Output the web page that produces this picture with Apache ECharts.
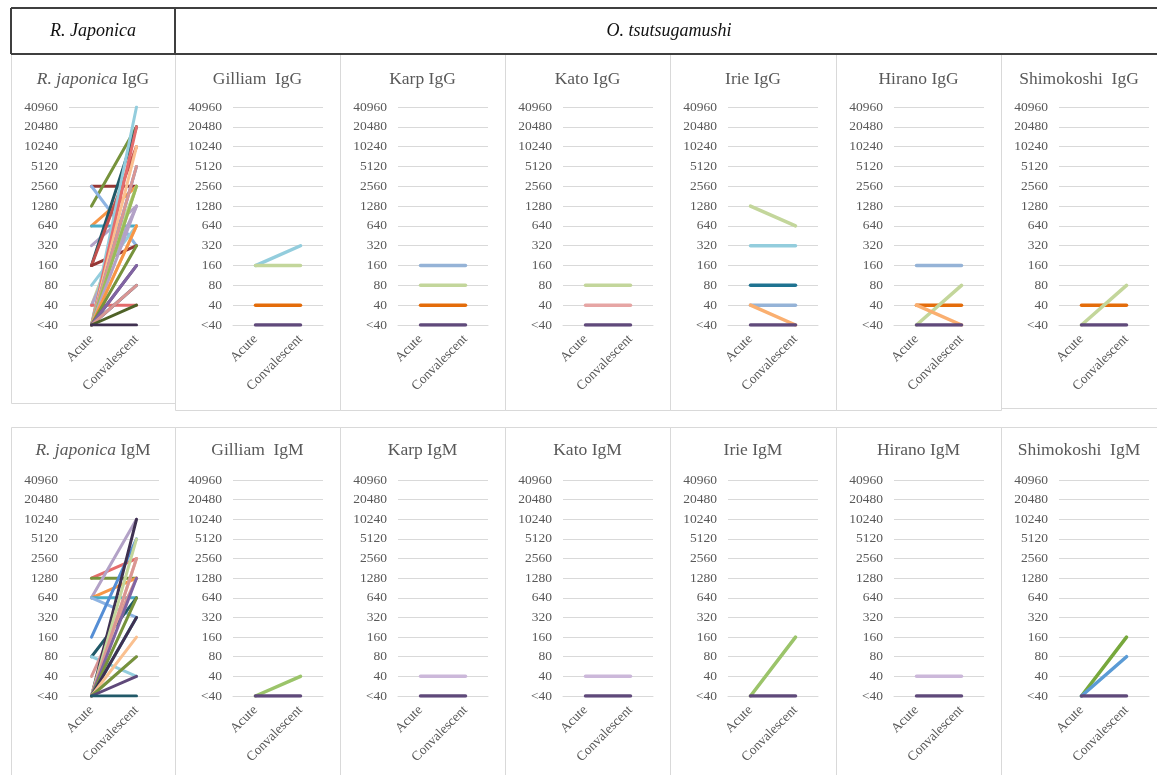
<!DOCTYPE html>
<html><head><meta charset="utf-8">
<script src="https://cdn.jsdelivr.net/npm/echarts@6/dist/echarts.min.js"></script>
<style>html,body{margin:0;padding:0;background:#fff}#c{width:1157px;height:775px}</style>
</head><body><div id="c"></div>
<script>
// ---------- data ----------
const titerLabels = ['<40','40','80','160','320','640','1280','2560','5120','10240','20480','40960'];
const phaseLabels = ['Acute','Convalescent'];
const headerLeft = 'R. Japonica';
const headerRight = 'O. tsutsugamushi';
const strainNames = ['Gilliam  ','Karp ','Kato ','Irie ','Hirano ','Shimokoshi  '];

// each pair: [acute, convalescent]
const rjIgG = [
  ['2560','2560'],['1280','20480'],['2560','320'],['640','2560'],['640','640'],['320','1280'],
  ['160','20480'],['160','10240'],['160','320'],['80','640'],['40','2560'],['40','1280'],['40','40'],
  ['<40','40960'],['<40','20480'],['<40','10240'],['<40','5120'],['<40','5120'],['<40','2560'],
  ['<40','2560'],['<40','1280'],['<40','640'],['<40','640'],['<40','320'],['<40','160'],
  ['<40','160'],['<40','80'],['<40','80'],['<40','40'],['<40','<40']
];
const rjIgGColors = [
  '#953735','#77933C','#8EB4E3','#F79646','#4BACC6','#B3A2C7',
  '#215968','#C0504D','#953735','#93CDDD','#C3D69B','#B3A2C7','#E46C6C',
  '#93CDDD','#E46C6C','#FAC090','#558ED5','#D99694','#C3D69B',
  '#9BBB59','#B3A2C7','#FAC090','#F79646','#77933C','#5F497A',
  '#8064A2','#1F5F7A','#D99694','#4F6228','#403151'
];
const rjIgM = [
  ['1280','2560'],['1280','1280'],['640','10240'],['640','1280'],['640','640'],['640','320'],
  ['160','5120'],['80','640'],['80','40'],['40','1280'],
  ['<40','10240'],['<40','5120'],['<40','2560'],['<40','2560'],['<40','1280'],['<40','640'],
  ['<40','320'],['<40','320'],['<40','160'],['<40','80'],['<40','80'],['<40','40'],['<40','<40']
];
const rjIgMColors = [
  '#E46C6C','#77933C','#B3A2C7','#F79646','#4BACC6','#8EB4E3',
  '#558ED5','#215968','#93CDDD','#D99694',
  '#3F3151','#C3D69B','#FAC090','#D99694','#8064A2','#77933C',
  '#4BACC6','#3F3151','#FAC090','#CCC1DA','#77933C','#5F497A','#215968'
];
const gilliamIgG = [['160','320'],['160','160'],['40','40'],['<40','<40']];
const gilliamIgGColors = ['#93CDDD','#C3D69B','#E46C0A','#604A7B'];
const karpIgG = [['160','160'],['80','80'],['40','40'],['<40','<40']];
const karpIgGColors = ['#95B3D7','#C3D69B','#E46C0A','#604A7B'];
const katoIgG = [['80','80'],['40','40'],['<40','<40']];
const katoIgGColors = ['#C3D69B','#E6A5A4','#604A7B'];
const irieIgG = [['1280','640'],['320','320'],['80','80'],['40','40'],['40','<40'],['<40','<40']];
const irieIgGColors = ['#C3D69B','#93CDDD','#1F7391','#95B3D7','#FAAF70','#604A7B'];
const hiranoIgG = [['160','160'],['40','40'],['<40','80'],['40','<40'],['<40','<40']];
const hiranoIgGColors = ['#95B3D7','#E46C0A','#C3D69B','#FAAF70','#604A7B'];
const shimoIgG = [['40','40'],['<40','80'],['<40','<40']];
const shimoIgGColors = ['#E46C0A','#C3D69B','#604A7B'];

const gilliamIgM = [['<40','40'],['<40','<40']];
const gilliamIgMColors = ['#9BC46A','#5F497A'];
const karpIgM = [['40','40'],['<40','<40']];
const karpIgMColors = ['#CCB8DA','#5F497A'];
const katoIgM = [['40','40'],['<40','<40']];
const katoIgMColors = ['#CCB8DA','#5F497A'];
const irieIgM = [['<40','160'],['<40','<40']];
const irieIgMColors = ['#9BC46A','#5F497A'];
const hiranoIgM = [['40','40'],['<40','<40']];
const hiranoIgMColors = ['#CCB8DA','#5F497A'];
const shimoIgM = [['<40','160'],['<40','80'],['<40','<40']];
const shimoIgMColors = ['#77A83C','#5B9BD5','#5F497A'];

// ---------- layout ----------
const panelLefts = [11,175,340,505,670,836,1001];
const panelRights = [175,340,505,670,836,1001,1157];
const rowTop = [54, 427];
const rowBottom = [[403,410,410,410,410,410,408], [776,776,776,776,776,776,776]];
const gridTop = [107, 480];
const gridH = [218, 216];
const titleY = [79, 450];
const FONT = '"Liberation Serif","Times New Roman",serif';
const TXT = '#595959';

const panels = [
  {row:0,col:0,data:rjIgG,colors:rjIgGColors,title:'{i|R. japonica} IgG',w:3},
  {row:0,col:1,data:gilliamIgG,colors:gilliamIgGColors,title:strainNames[0]+'IgG',w:3.5},
  {row:0,col:2,data:karpIgG,colors:karpIgGColors,title:strainNames[1]+'IgG',w:3.5},
  {row:0,col:3,data:katoIgG,colors:katoIgGColors,title:strainNames[2]+'IgG',w:3.5},
  {row:0,col:4,data:irieIgG,colors:irieIgGColors,title:strainNames[3]+'IgG',w:3.5},
  {row:0,col:5,data:hiranoIgG,colors:hiranoIgGColors,title:strainNames[4]+'IgG',w:3.5},
  {row:0,col:6,data:shimoIgG,colors:shimoIgGColors,title:strainNames[5]+'IgG',w:3.5},
  {row:1,col:0,data:rjIgM,colors:rjIgMColors,title:'{i|R. japonica} IgM',w:3},
  {row:1,col:1,data:gilliamIgM,colors:gilliamIgMColors,title:strainNames[0]+'IgM',w:3.5},
  {row:1,col:2,data:karpIgM,colors:karpIgMColors,title:strainNames[1]+'IgM',w:3.5},
  {row:1,col:3,data:katoIgM,colors:katoIgMColors,title:strainNames[2]+'IgM',w:3.5},
  {row:1,col:4,data:irieIgM,colors:irieIgMColors,title:strainNames[3]+'IgM',w:3.5},
  {row:1,col:5,data:hiranoIgM,colors:hiranoIgMColors,title:strainNames[4]+'IgM',w:3.5},
  {row:1,col:6,data:shimoIgM,colors:shimoIgMColors,title:strainNames[5]+'IgM',w:3.5}
];

const grids=[], xAxes=[], yAxes=[], series=[], graphics=[];
const idx = v => titerLabels.indexOf(v);

panels.forEach((p,i)=>{
  const L = panelLefts[p.col];
  grids.push({left: L+58, top: gridTop[p.row], width: 90, height: gridH[p.row], containLabel:false});
  xAxes.push({type:'category', gridIndex:i, data:phaseLabels, boundaryGap:true,
    axisLine:{show:true,lineStyle:{color:'#d9d9d9',width:1}}, axisTick:{show:false},
    axisLabel:{rotate:45, interval:0, margin:12, color:TXT, fontFamily:FONT, fontSize:13.5}});
  yAxes.push({type:'category', gridIndex:i, data:titerLabels, boundaryGap:false,
    axisLine:{show:false}, axisTick:{show:false},
    splitLine:{show:true,lineStyle:{color:'#d9d9d9',width:1}},
    axisLabel:{interval:0, margin:11, color:TXT, fontFamily:FONT, fontSize:13.5}});
  p.data.forEach((pair,k)=>{
    series.push({type:'line', xAxisIndex:i, yAxisIndex:i, symbol:'none', silent:true,
      data:[[0, idx(pair[0])],[1, idx(pair[1])]],
      lineStyle:{width:p.w, color:p.colors[k], cap:'round'}, z: 2});
  });
  // panel border
  graphics.push({type:'rect', shape:{x:L+0.5, y:rowTop[p.row]+0.5, width:panelRights[p.col]-L, height:rowBottom[p.row][p.col]-rowTop[p.row]},
    style:{fill:'none', stroke:'#d9d9d9', lineWidth:1}, z:0, silent:true});
  // title
  graphics.push({type:'text', x:(L+panelRights[p.col])/2, y:titleY[p.row],
    style:{text:p.title, align:'center', verticalAlign:'middle', textAlign:'center', textVerticalAlign:'middle',
      fill:TXT, font:'17.5px '+FONT,
      rich:{i:{fontStyle:'italic', fontSize:17.5, fontFamily:FONT, fill:TXT}}}, z:5, silent:true});
});

// header table
const hdr = '#3f3f3f';
[[11,8,1157,8],[11,54,1157,54],[11,8,11,54],[175,8,175,54]].forEach(s=>{
  graphics.push({type:'line', shape:{x1:s[0],y1:s[1],x2:s[2],y2:s[3]}, style:{stroke:hdr,lineWidth:2}, z:10, silent:true});
});
graphics.push({type:'text', x:93, y:31, style:{text:headerLeft, align:'center', verticalAlign:'middle', textAlign:'center', textVerticalAlign:'middle',
  fill:'#111', font:'italic 18px '+FONT}, z:10, silent:true});
graphics.push({type:'text', x:669, y:31, style:{text:headerRight, align:'center', verticalAlign:'middle', textAlign:'center', textVerticalAlign:'middle',
  fill:'#111', font:'italic 18px '+FONT}, z:10, silent:true});

const chart = echarts.init(document.getElementById('c'), null, {renderer:'canvas'});
chart.setOption({
  animation:false,
  backgroundColor:'#fff',
  grid:grids, xAxis:xAxes, yAxis:yAxes, series:series, graphic:graphics
});
</script>
</body></html>
